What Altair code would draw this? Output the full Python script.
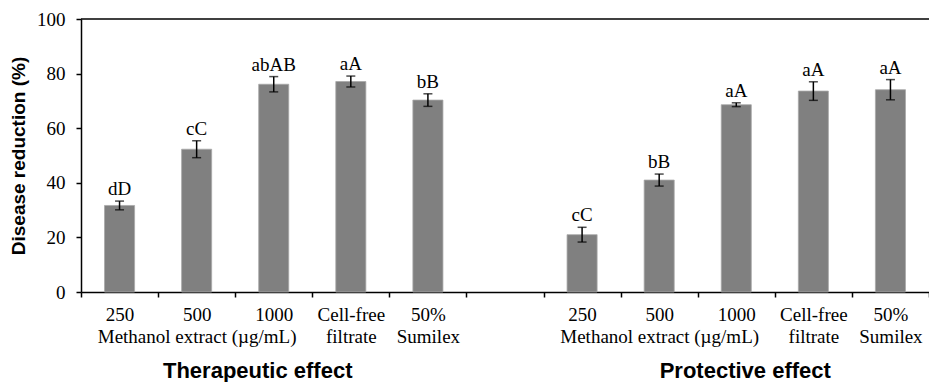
import altair as alt
import pandas as pd

groups = ["Therapeutic effect", "Protective effect"]
treatments = ["250", "500", "1000", "Cell-free", "50%"]
second_lines = ["", "Methanol extract (µg/mL)", "", "filtrate", "Sumilex"]

ther_mean = [31.7, 52.3, 76.1, 77.1, 70.3]
ther_err = [1.6, 3.1, 2.8, 2.0, 2.3]
ther_letters = ["dD", "cC", "abAB", "aA", "bB"]

prot_mean = [21.0, 41.0, 68.6, 73.6, 74.1]
prot_err = [2.7, 2.2, 0.7, 3.4, 3.7]
prot_letters = ["cC", "bB", "aA", "aA", "aA"]

y_ticks = [0, 20, 40, 60, 80, 100]

rows = []
order = []
for gi, (means, errs, letters) in enumerate([(ther_mean, ther_err, ther_letters),
                                             (prot_mean, prot_err, prot_letters)]):
    if gi == 1:
        order.append("gap||")
    for t, s, m, e, l in zip(treatments, second_lines, means, errs, letters):
        cid = f"{gi}|{t}|{s}"
        order.append(cid)
        rows.append({"id": cid, "mean": m, "lo": m - e, "hi": m + e, "letters": l,
                     "group": groups[gi]})
df = pd.DataFrame(rows)

x_enc = alt.X(
    "id:N",
    sort=order,
    scale=alt.Scale(domain=order, paddingInner=0, paddingOuter=0),
    axis=alt.Axis(
        title=None, labelAngle=0, tickBand="extent",
        labelExpr="slice(split(datum.value, '|'), 1)",
        labelFont="Liberation Serif", labelFontSize=19, labelColor="black",
        labelLineHeight=22, labelPadding=8, labelOverlap=False, labelLimit=0,
        tickSize=5, tickColor="black", tickWidth=1.5,
        domainColor="black", domainWidth=1.5, grid=False,
    ),
)

y_scale = alt.Scale(domain=[0, 100], nice=False)

bars = alt.Chart(df).mark_bar(
    width=alt.RelativeBandSize(0.39), color="#808080", stroke="#a8a8a8", strokeWidth=0.8
).encode(
    x=x_enc,
    y=alt.Y(
        "mean:Q", scale=y_scale,
        axis=alt.Axis(
            title="Disease reduction (%)", values=y_ticks, grid=False,
            titleFont="Liberation Sans", titleFontWeight="bold", titleFontSize=19,
            titleColor="black", titleX=-63, titleY=136.5, titleAngle=270,
            titleAlign="center", titleBaseline="middle",
            labelFont="Liberation Serif", labelFontSize=19, labelColor="black",
            labelPadding=11, tickSize=5, tickColor="black", tickWidth=1.5,
            domainColor="black", domainWidth=1.5,
        ),
    ),
)

err_rule = alt.Chart(df).mark_rule(color="black", strokeWidth=1.5).encode(
    x="id:N", y=alt.Y("lo:Q", scale=y_scale), y2="hi:Q"
)
cap_hi = alt.Chart(df).mark_tick(color="black", size=9, thickness=1.5).encode(
    x="id:N", y=alt.Y("hi:Q", scale=y_scale)
)
cap_lo = alt.Chart(df).mark_tick(color="black", size=9, thickness=1.5).encode(
    x="id:N", y=alt.Y("lo:Q", scale=y_scale)
)
letters_txt = alt.Chart(df).mark_text(
    font="Liberation Serif", fontSize=19, baseline="alphabetic", dy=-6, color="black"
).encode(x="id:N", y=alt.Y("hi:Q", scale=y_scale), text="letters:N")

top_line = alt.Chart(pd.DataFrame({"v": [y_ticks[-1]]})).mark_rule(
    color="black", strokeWidth=1.5
).encode(y=alt.Y("v:Q", scale=y_scale))

title_df1 = pd.DataFrame({"id": [order[2]], "title": [groups[0]]})
title_df2 = pd.DataFrame({"id": [order[8]], "title": [groups[1]]})
t1 = alt.Chart(title_df1).mark_text(
    font="Liberation Sans", fontWeight="bold", fontSize=22, baseline="alphabetic",
    color="black", dx=-16
).encode(x="id:N", y=alt.value(359), text="title:N")
t2 = alt.Chart(title_df2).mark_text(
    font="Liberation Sans", fontWeight="bold", fontSize=22, baseline="alphabetic",
    color="black", dx=9
).encode(x="id:N", y=alt.value(359), text="title:N")

chart = alt.layer(bars, err_rule, cap_hi, cap_lo, letters_txt, top_line, t1, t2).properties(
    width=848, height=273,
    padding={"left": 81, "top": 19, "right": 0, "bottom": 90},
    autosize=alt.AutoSizeParams(type="none"),
    background="white",
).configure_view(strokeWidth=0)

chart.save("out.html", embed_options={"renderer": "svg", "actions": False})
